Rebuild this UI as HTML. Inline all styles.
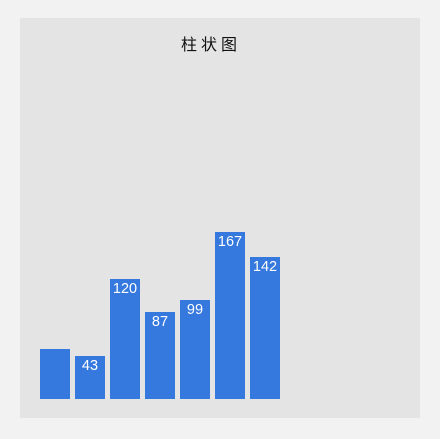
<!DOCTYPE html>
<html><head><meta charset="utf-8"><style>
html,body{margin:0;padding:0;background:#f2f2f2;}
svg{display:block;font-family:"Liberation Sans","Noto Sans CJK SC",sans-serif;}
</style></head><body>
<svg width="440" height="439">
<rect x="20" y="18" width="400" height="400" fill="#e4e4e4"/>
<text x="211" y="50" text-anchor="middle" font-size="16" fill="#111" letter-spacing="4">柱状图</text>
<g id="bars"></g>
</svg>
<script>
const categories = ["a","b","c","d","e","f","g"];
const values = [50, 43, 120, 87, 99, 167, 142];
const labels = ["", "43", "120", "87", "99", "167", "142"];
const g = document.getElementById('bars');
const NS = 'http://www.w3.org/2000/svg';
const baseY = 399, x0 = 40, step = 35, bw = 30;
function xScale(i){ return x0 + i*step; }
function yScale(v){ return baseY - v; }
values.forEach((v,i)=>{
  const r = document.createElementNS(NS,'rect');
  r.setAttribute('x', xScale(i));
  r.setAttribute('y', yScale(v));
  r.setAttribute('width', bw);
  r.setAttribute('height', baseY - yScale(v));
  r.setAttribute('fill', '#3578de');
  
  
  g.appendChild(r);
  if (labels[i]) {
    const t = document.createElementNS(NS,'text');
    t.setAttribute('x', xScale(i) + bw/2);
    t.setAttribute('y', yScale(v) + 14);
    t.setAttribute('text-anchor', 'middle');
    t.setAttribute('font-size', '14.5');
    t.setAttribute('fill', '#ffffff');
    t.textContent = labels[i];
    
    
    g.appendChild(t);
  }
});
</script>
</body></html>
